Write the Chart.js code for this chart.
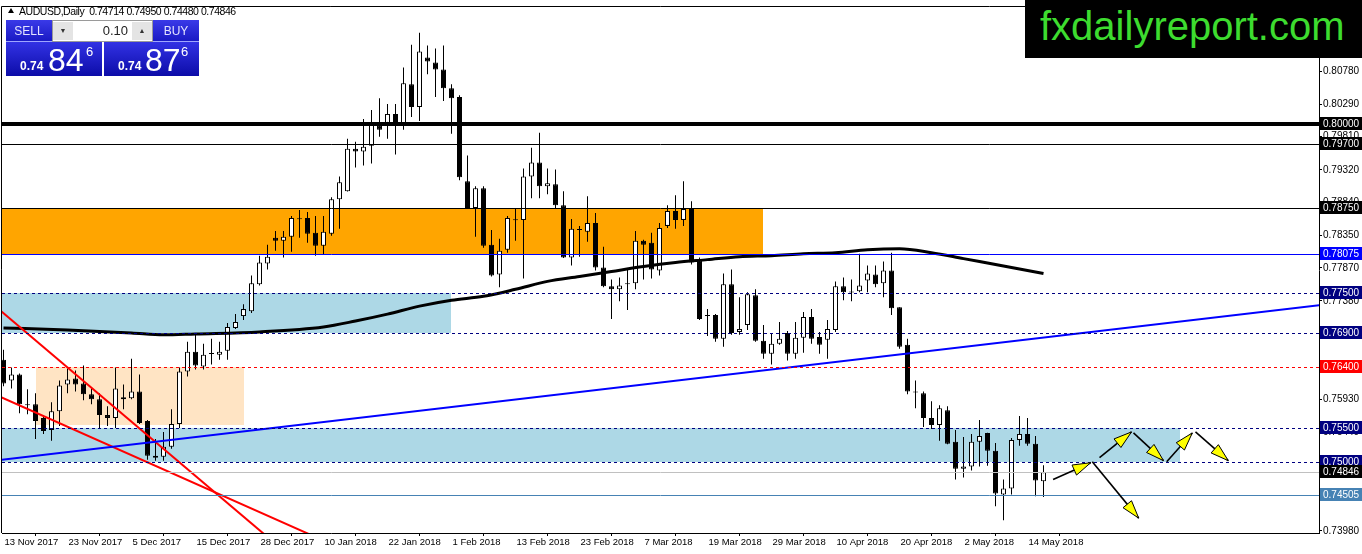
<!DOCTYPE html>
<html><head><meta charset="utf-8">
<script src="https://cdn.jsdelivr.net/npm/chart.js@4.4.1/dist/chart.umd.min.js"></script>
<style>
html,body{margin:0;padding:0;background:#fff;}
#wrap{position:relative;width:1362px;height:554px;overflow:hidden;background:#fff;}
#c{position:absolute;left:0;top:0;}
.ov{position:absolute;font-family:'Liberation Sans',Arial,sans-serif;white-space:nowrap;}
#hdr{left:19px;top:4px;font-size:10.5px;letter-spacing:-0.45px;line-height:14px;color:#000;}
#tri{left:8px;top:8px;width:0;height:0;border-left:3px solid transparent;border-right:3px solid transparent;border-bottom:5px solid #000;}
.btn{top:20px;height:22px;background:linear-gradient(#3a3ae8,#1a1ac4);color:#e4e4ff;font-size:12px;line-height:22px;text-align:center;border-bottom:1px solid #9fa6ff;box-sizing:border-box;}
#lot{left:52px;top:20px;width:101px;height:22px;background:#fff;border:1px solid #9a9a9a;box-sizing:border-box;}
.arr{top:1px;width:20px;height:18px;background:#e4e4e4;color:#333;font-size:7px;line-height:18px;text-align:center;}
#lotv{left:20px;top:0;width:55px;height:20px;font-size:13px;line-height:20px;text-align:right;color:#222;}
.pbox{top:42px;height:34px;background:linear-gradient(#3232e4,#0c0ca8);color:#fff;}
.sm{font-size:12px;font-weight:bold;top:17px;line-height:14px;}
.big{font-size:32px;top:2px;line-height:32px;}
.sup{font-size:13px;top:3px;line-height:14px;}
#brand{left:1025px;top:0;width:337px;height:58px;background:#000;}
#brandt{left:15px;top:3px;font-size:40px;line-height:46px;color:#3ddc2f;}
</style></head><body>
<div id="wrap">
<canvas id="c" width="1362" height="554" style="width:1362px;height:554px"></canvas>
<div class="ov" id="tri"></div>
<div class="ov" id="hdr">AUDUSD,Daily&nbsp;&nbsp;0.74714 0.74950 0.74480 0.74846</div>
<div class="ov btn" style="left:6px;width:46px;">SELL</div>
<div class="ov" id="lot">
  <div class="ov arr" style="left:0px;">&#9660;</div>
  <div class="ov" id="lotv">0.10</div>
  <div class="ov arr" style="left:79px;">&#9650;</div>
</div>
<div class="ov btn" style="left:153px;width:46px;">BUY</div>
<div class="ov pbox" style="left:6px;width:96px;">
  <span class="ov sm" style="left:14px;">0.74</span><span class="ov big" style="left:42px;">84</span><span class="ov sup" style="left:80px;">6</span>
</div>
<div class="ov pbox" style="left:104px;width:95px;">
  <span class="ov sm" style="left:14px;">0.74</span><span class="ov big" style="left:41px;">87</span><span class="ov sup" style="left:77px;">6</span>
</div>
<div class="ov" id="brand"><div class="ov" id="brandt">fxdailyreport.com</div></div>
</div>
<script>
// ---------------- DATA ----------------
const tickIndex = [0,8,16,24,32,40,48,56,64,72,80,88,96,104,112,120,128];
const tickLabels = ["13 Nov 2017","23 Nov 2017","5 Dec 2017","15 Dec 2017","28 Dec 2017","10 Jan 2018","22 Jan 2018","1 Feb 2018","13 Feb 2018","23 Feb 2018","7 Mar 2018","19 Mar 2018","29 Mar 2018","10 Apr 2018","20 Apr 2018","2 May 2018","14 May 2018"];
const yTicks = [0.80780,0.80290,0.79810,0.79320,0.78840,0.78350,0.77870,0.77380,0.76900,0.76410,0.75930,0.75440,0.74960,0.74470,0.73980];

const opens = [0.76512,0.76205,0.76293,0.75853,0.75853,0.75648,0.75472,0.75750,0.76146,0.76234,
0.76161,0.75999,0.75926,0.75692,0.75648,0.75926,0.75941,0.76043,0.75604,0.75091,
0.75076,0.75223,0.75560,0.76337,0.76630,0.76410,0.76600,0.76586,0.76644,0.76981,
0.77157,0.77230,0.77626,0.77934,0.78315,0.78271,0.78330,0.78593,0.78608,0.78388,
0.78198,0.78373,0.78886,0.79004,0.79634,0.79590,0.79678,0.79971,0.80015,0.80147,
0.80015,0.80586,0.80249,0.80982,0.80909,0.80806,0.80528,0.80396,0.79150,0.78754,
0.79048,0.78212,0.77773,0.78139,0.78579,0.78579,0.79223,0.79429,0.79077,0.79106,
0.78798,0.78022,0.78432,0.78403,0.78535,0.77875,0.77597,0.77553,0.77626,0.77641,
0.78271,0.78242,0.77831,0.78491,0.78711,0.78579,0.78754,0.77978,0.77157,0.77172,
0.76820,0.77626,0.76923,0.77025,0.77465,0.76791,0.76600,0.76747,0.76908,0.76600,
0.76835,0.77143,0.76849,0.76805,0.76952,0.77597,0.77509,0.77523,0.77685,0.77773,
0.77641,0.77831,0.77289,0.76732,0.76029,0.76014,0.75648,0.75545,0.75765,0.75296,
0.74900,0.74930,0.75296,0.75428,0.75164,0.74519,0.74607,0.75325,0.75413,0.75267,
0.74714];
const highs = [0.76659,0.76395,0.76307,0.76073,0.76014,0.75692,0.75882,0.76205,0.76381,0.76351,
0.76424,0.76087,0.76014,0.75824,0.76395,0.76146,0.76527,0.76293,0.75618,0.75340,
0.75443,0.75780,0.76395,0.76776,0.76879,0.76747,0.76820,0.76776,0.77055,0.77186,
0.77333,0.77758,0.78051,0.78212,0.78417,0.78417,0.78637,0.78725,0.78696,0.78637,
0.78637,0.78916,0.79223,0.79780,0.79736,0.80073,0.80205,0.80381,0.80293,0.80293,
0.80835,0.81172,0.81348,0.81158,0.81114,0.81158,0.80586,0.80425,0.79531,0.79077,
0.79077,0.78432,0.78300,0.78637,0.78740,0.79341,0.79648,0.79868,0.79341,0.79326,
0.79004,0.78593,0.78491,0.78930,0.78681,0.78183,0.77699,0.77729,0.77846,0.78417,
0.78286,0.78388,0.78535,0.78798,0.78945,0.79150,0.78857,0.78022,0.77260,0.77186,
0.77787,0.77846,0.77436,0.77509,0.77553,0.77025,0.76893,0.77069,0.76937,0.77069,
0.77216,0.77260,0.76923,0.77099,0.77670,0.77729,0.77699,0.78080,0.77905,0.77905,
0.77963,0.78095,0.77289,0.76820,0.76205,0.76043,0.75897,0.75838,0.75824,0.75472,
0.75369,0.75413,0.75618,0.75430,0.75281,0.74739,0.75355,0.75677,0.75648,0.75384,
0.74950];
const lows = [0.76117,0.76087,0.75721,0.75706,0.75340,0.75413,0.75311,0.75531,0.76014,0.76043,
0.75912,0.75853,0.75501,0.75531,0.75501,0.75780,0.75926,0.75560,0.75032,0.75018,
0.75018,0.75194,0.75501,0.76263,0.76366,0.76366,0.76439,0.76512,0.76512,0.76967,
0.77099,0.77201,0.77611,0.77846,0.78124,0.78022,0.78110,0.78315,0.78242,0.78051,
0.78066,0.78344,0.78447,0.79000,0.79355,0.79385,0.79414,0.79810,0.79780,0.79546,
0.79912,0.80103,0.80044,0.80733,0.80396,0.80337,0.79853,0.79165,0.78750,0.78330,
0.78168,0.77743,0.77582,0.78095,0.78271,0.77714,0.78901,0.78901,0.78960,0.78740,
0.78017,0.77905,0.78036,0.78256,0.77831,0.77582,0.77113,0.77377,0.77245,0.77553,
0.77699,0.77714,0.77758,0.78461,0.78447,0.78491,0.77919,0.77099,0.76864,0.76776,
0.76703,0.76879,0.76879,0.76952,0.76776,0.76527,0.76439,0.76732,0.76498,0.76527,
0.76615,0.76747,0.76600,0.76527,0.76923,0.77392,0.77377,0.77509,0.77509,0.77582,
0.77436,0.77172,0.76674,0.75999,0.75794,0.75516,0.75487,0.75311,0.75262,0.74739,
0.74769,0.74871,0.74930,0.74944,0.74344,0.74138,0.74519,0.75237,0.75237,0.74490,
0.74480];
const closes = [0.76161,0.76293,0.75853,0.75838,0.75604,0.75457,0.75750,0.76131,0.76219,0.76146,
0.75999,0.75926,0.75692,0.75648,0.76087,0.75956,0.76043,0.75575,0.75091,0.75062,
0.75223,0.75560,0.76337,0.76630,0.76424,0.76586,0.76595,0.76630,0.76996,0.77069,
0.77260,0.77641,0.77949,0.78036,0.78271,0.78330,0.78608,0.78588,0.78373,0.78198,
0.78403,0.78886,0.79135,0.79634,0.79590,0.79663,0.80029,0.79912,0.80147,0.80000,
0.80601,0.80249,0.81070,0.80923,0.80806,0.80528,0.80381,0.79209,0.78754,0.79048,
0.78198,0.77758,0.78124,0.78608,0.78575,0.79223,0.79429,0.79077,0.79121,0.78798,
0.78022,0.78447,0.78437,0.78535,0.77875,0.77597,0.77553,0.77611,0.77630,0.78271,
0.78212,0.77846,0.78461,0.78711,0.78579,0.78740,0.77949,0.77113,0.77172,0.76820,
0.77626,0.76908,0.76967,0.77480,0.76791,0.76600,0.76747,0.76820,0.76600,0.76835,
0.77143,0.76820,0.76732,0.76967,0.77597,0.77509,0.77505,0.77611,0.77787,0.77626,
0.77831,0.77274,0.76703,0.76043,0.76025,0.75648,0.75545,0.75794,0.75267,0.74900,
0.74930,0.75296,0.75384,0.75164,0.74534,0.74607,0.75325,0.75413,0.75267,0.74725,
0.74846];

const maIndex  = [0,8,16,20,24,32,40,44,48,52,56,60,64,68,72,76,80,84,88,92,96,100,104,108,112,116,120,124,130];
const maValues = [0.76981,0.76952,0.76908,0.76879,0.76893,0.76923,0.76996,0.77084,0.77186,0.77304,0.77392,0.77450,0.77553,0.77670,0.77743,0.77817,0.77890,0.77949,0.77992,0.78036,0.78051,0.78080,0.78095,0.78139,0.78154,0.78095,0.78007,0.77919,0.77787];

// horizontal price levels
const levelPrices = [0.80000,0.79700,0.78750,0.78075,0.77500,0.76900,0.76400,0.75500,0.75000,0.74846,0.74505];

// rectangle zones (bar index range, price range)
const zoneFrom   = [-1, -1, 4, -1];
const zoneTo     = [94.9, 56, 30, 147];
const zoneTop    = [0.78750, 0.77500, 0.76400, 0.75500];
const zoneBottom = [0.78075, 0.76900, 0.75550, 0.75000];

// trend lines (bar index / price endpoints)
const blueLineX = [-0.25, 164.5];
const blueLineY = [0.75029, 0.77318];
const red1X = [-0.25, 33];
const red1Y = [0.77226, 0.73889];
const red2X = [-0.25, 39];
const red2Y = [0.75954, 0.73889];

// projected arrows (bar index / price)
const arrowX1 = [131.2, 136.1, 137.0, 141.25, 145.4, 149.0];
const arrowY1 = [0.74739, 0.75003, 0.75062, 0.75428, 0.75003, 0.75443];
const arrowX2 = [135.9, 141.9, 141.0, 145.0, 148.6, 153.1];
const arrowY2 = [0.74988, 0.74168, 0.75443, 0.75018, 0.75428, 0.75018];

// trading-day categories
const dates = [];
(function(){
  const M=['Jan','Feb','Mar','Apr','May','Jun','Jul','Aug','Sep','Oct','Nov','Dec'];
  const d=new Date(Date.UTC(2017,10,13));
  while(dates.length<opens.length){
    const wd=d.getUTCDay(), md=d.getUTCMonth()*100+d.getUTCDate();
    if(wd!==0&&wd!==6&&md!==1125&&md!==1){dates.push(d.getUTCDate()+' '+M[d.getUTCMonth()]+' '+d.getUTCFullYear());}
    d.setUTCDate(d.getUTCDate()+1);
  }
})();

// ---------------- STYLES ----------------
const levelColor = ['#000000','#000000','#000000','#0000FF','#000080','#000080','#FF0000','#000080','#000080','#C0C0C0','#4682B4'];
const levelWidth = [4,1,1,1,1,1,1,1,1,1,1];
const levelDash  = [[],[],[],[],[3,3],[3,3],[3,3],[3,3],[3,3],[],[]];
const tagColor   = ['#000000','#000000','#000000','#0000FF','#000080','#000080','#FF0000','#000080','#000080','#000000','#4682B4'];
const zoneColor  = ['#FFA500','#ADD8E6','#FFE4C4','#ADD8E6'];
const FONT = "'Liberation Sans', Arial, sans-serif";

const decor = {
  id:'decor',
  beforeDatasetsDraw(chart){
    const {ctx, chartArea:a, scales:{x,y}} = chart;
    ctx.save();
    ctx.beginPath(); ctx.rect(a.left,a.top,a.right-a.left,a.bottom-a.top); ctx.clip();
    zoneTop.forEach((t,i)=>{
      const x1=Math.round(x.getPixelForValue(zoneFrom[i])), x2=Math.round(x.getPixelForValue(zoneTo[i]));
      const y1=Math.round(y.getPixelForValue(t)), y2=Math.round(y.getPixelForValue(zoneBottom[i]));
      ctx.fillStyle=zoneColor[i]; ctx.fillRect(x1,y1,x2-x1,y2-y1);
    });
    ctx.restore();
  },
  afterDatasetsDraw(chart){
    const {ctx, chartArea:a, scales:{x,y}} = chart;
    ctx.save();
    ctx.beginPath(); ctx.rect(a.left,a.top,a.right-a.left,a.bottom-a.top); ctx.clip();
    levelPrices.forEach((p,i)=>{
      let py=y.getPixelForValue(p);
      py = levelWidth[i]%2 ? Math.round(py)+0.5 : Math.round(py);
      ctx.strokeStyle=levelColor[i]; ctx.lineWidth=levelWidth[i]; ctx.setLineDash(levelDash[i]);
      ctx.beginPath(); ctx.moveTo(a.left,py); ctx.lineTo(a.right,py); ctx.stroke();
    });
    ctx.setLineDash([]);
    arrowX1.forEach((v,i)=>{
      const x1=x.getPixelForValue(v), y1=y.getPixelForValue(arrowY1[i]);
      const x2=x.getPixelForValue(arrowX2[i]), y2=y.getPixelForValue(arrowY2[i]);
      ctx.strokeStyle='#000'; ctx.lineWidth=1.6;
      ctx.beginPath(); ctx.moveTo(x1,y1); ctx.lineTo(x2,y2); ctx.stroke();
      const an=Math.atan2(y2-y1,x2-x1), L=18, W=5.5;
      const bx=x2-L*Math.cos(an), by=y2-L*Math.sin(an);
      ctx.beginPath(); ctx.moveTo(x2,y2);
      ctx.lineTo(bx+W*Math.sin(an), by-W*Math.cos(an));
      ctx.lineTo(bx-W*Math.sin(an), by+W*Math.cos(an));
      ctx.closePath(); ctx.fillStyle='#FFFF00'; ctx.fill(); ctx.lineWidth=1; ctx.stroke();
    });
    ctx.restore();
  },
  afterDraw(chart){
    const {ctx, chartArea:a, scales:{y}} = chart;
    ctx.save();
    ctx.strokeStyle='#000'; ctx.lineWidth=1;
    ctx.beginPath(); ctx.moveTo(a.left-0.5,a.bottom); ctx.lineTo(a.left-0.5,a.top-0.5); ctx.lineTo(a.right,a.top-0.5); ctx.stroke();
    ctx.font='10px '+FONT; ctx.textBaseline='middle'; ctx.textAlign='left';
    levelPrices.forEach((p,i)=>{
      const py=Math.round(y.getPixelForValue(p));
      ctx.fillStyle=tagColor[i]; ctx.fillRect(a.right+1,py-7,43,13);
      ctx.fillStyle='#fff'; ctx.fillText(p.toFixed(5), a.right+4, py);
    });
    ctx.restore();
  }
};

const bodyData = opens.map((o,i)=>({x:i, y:[Math.min(o,closes[i]), Math.max(o,closes[i])]}));
const wickData = opens.map((o,i)=>({x:i, y:[lows[i], highs[i]]}));
const bodyColors = opens.map((o,i)=> closes[i]>=o ? '#FFFFFF' : '#000000');

new Chart(document.getElementById('c'), {
  type:'bar',
  data:{ labels: dates, datasets:[
    {type:'line', label:'MA', data: maIndex.map((v,i)=>({x:v,y:maValues[i]})), borderColor:'#000', borderWidth:3, pointRadius:0, cubicInterpolationMode:'monotone', order:-2},
    {type:'line', label:'Trend', data: blueLineX.map((v,i)=>({x:v,y:blueLineY[i]})), borderColor:'#0000FF', borderWidth:2, pointRadius:0, order:-3},
    {type:'line', label:'Red1', data: red1X.map((v,i)=>({x:v,y:red1Y[i]})), borderColor:'#FF0000', borderWidth:2, pointRadius:0, order:-3},
    {type:'line', label:'Red2', data: red2X.map((v,i)=>({x:v,y:red2Y[i]})), borderColor:'#FF0000', borderWidth:2, pointRadius:0, order:-3},
    {type:'bar', label:'Body', data: bodyData, backgroundColor: bodyColors, borderColor:'#000', borderWidth:1, borderSkipped:false, barThickness:5, grouped:false, minBarLength:1, inflateAmount:0, order:0},
    {type:'bar', label:'Wick', data: wickData, backgroundColor:'#000', borderWidth:0, barThickness:1, grouped:false, inflateAmount:0, order:1}
  ]},
  options:{
    responsive:false, animation:false, devicePixelRatio:1,
    layout:{padding:{left:2,top:2,right:0,bottom:0}},
    plugins:{legend:{display:false}, tooltip:{enabled:false}},
    scales:{
      x:{type:'linear', min:-0.1875, max:164.4375, offset:false,
        afterBuildTicks:s=>{s.ticks=tickIndex.map(v=>({value:v}));},
        afterFit:s=>{s.height=21;},
        ticks:{autoSkip:false, maxRotation:0, align:'start', labelOffset:1, padding:1, color:'#000', font:{family:FONT,size:9.5}, callback:(v,i)=>tickLabels[i]},
        grid:{drawOnChartArea:false, drawTicks:true, tickLength:3, color:'#000'},
        border:{display:true,color:'#000',width:1}
      },
      y:{type:'linear', position:'right', min:0.739479, max:0.817292,
        afterBuildTicks:s=>{s.ticks=yTicks.map(v=>({value:v}));},
        afterFit:s=>{s.width=43;},
        ticks:{color:'#000', padding:1, font:{family:FONT,size:10}, callback:v=>Number(v).toFixed(5)},
        grid:{drawOnChartArea:false, drawTicks:true, tickLength:3, color:'#000'},
        border:{display:true,color:'#000',width:1}
      }
    }
  },
  plugins:[decor]
});
</script>
</body></html>
